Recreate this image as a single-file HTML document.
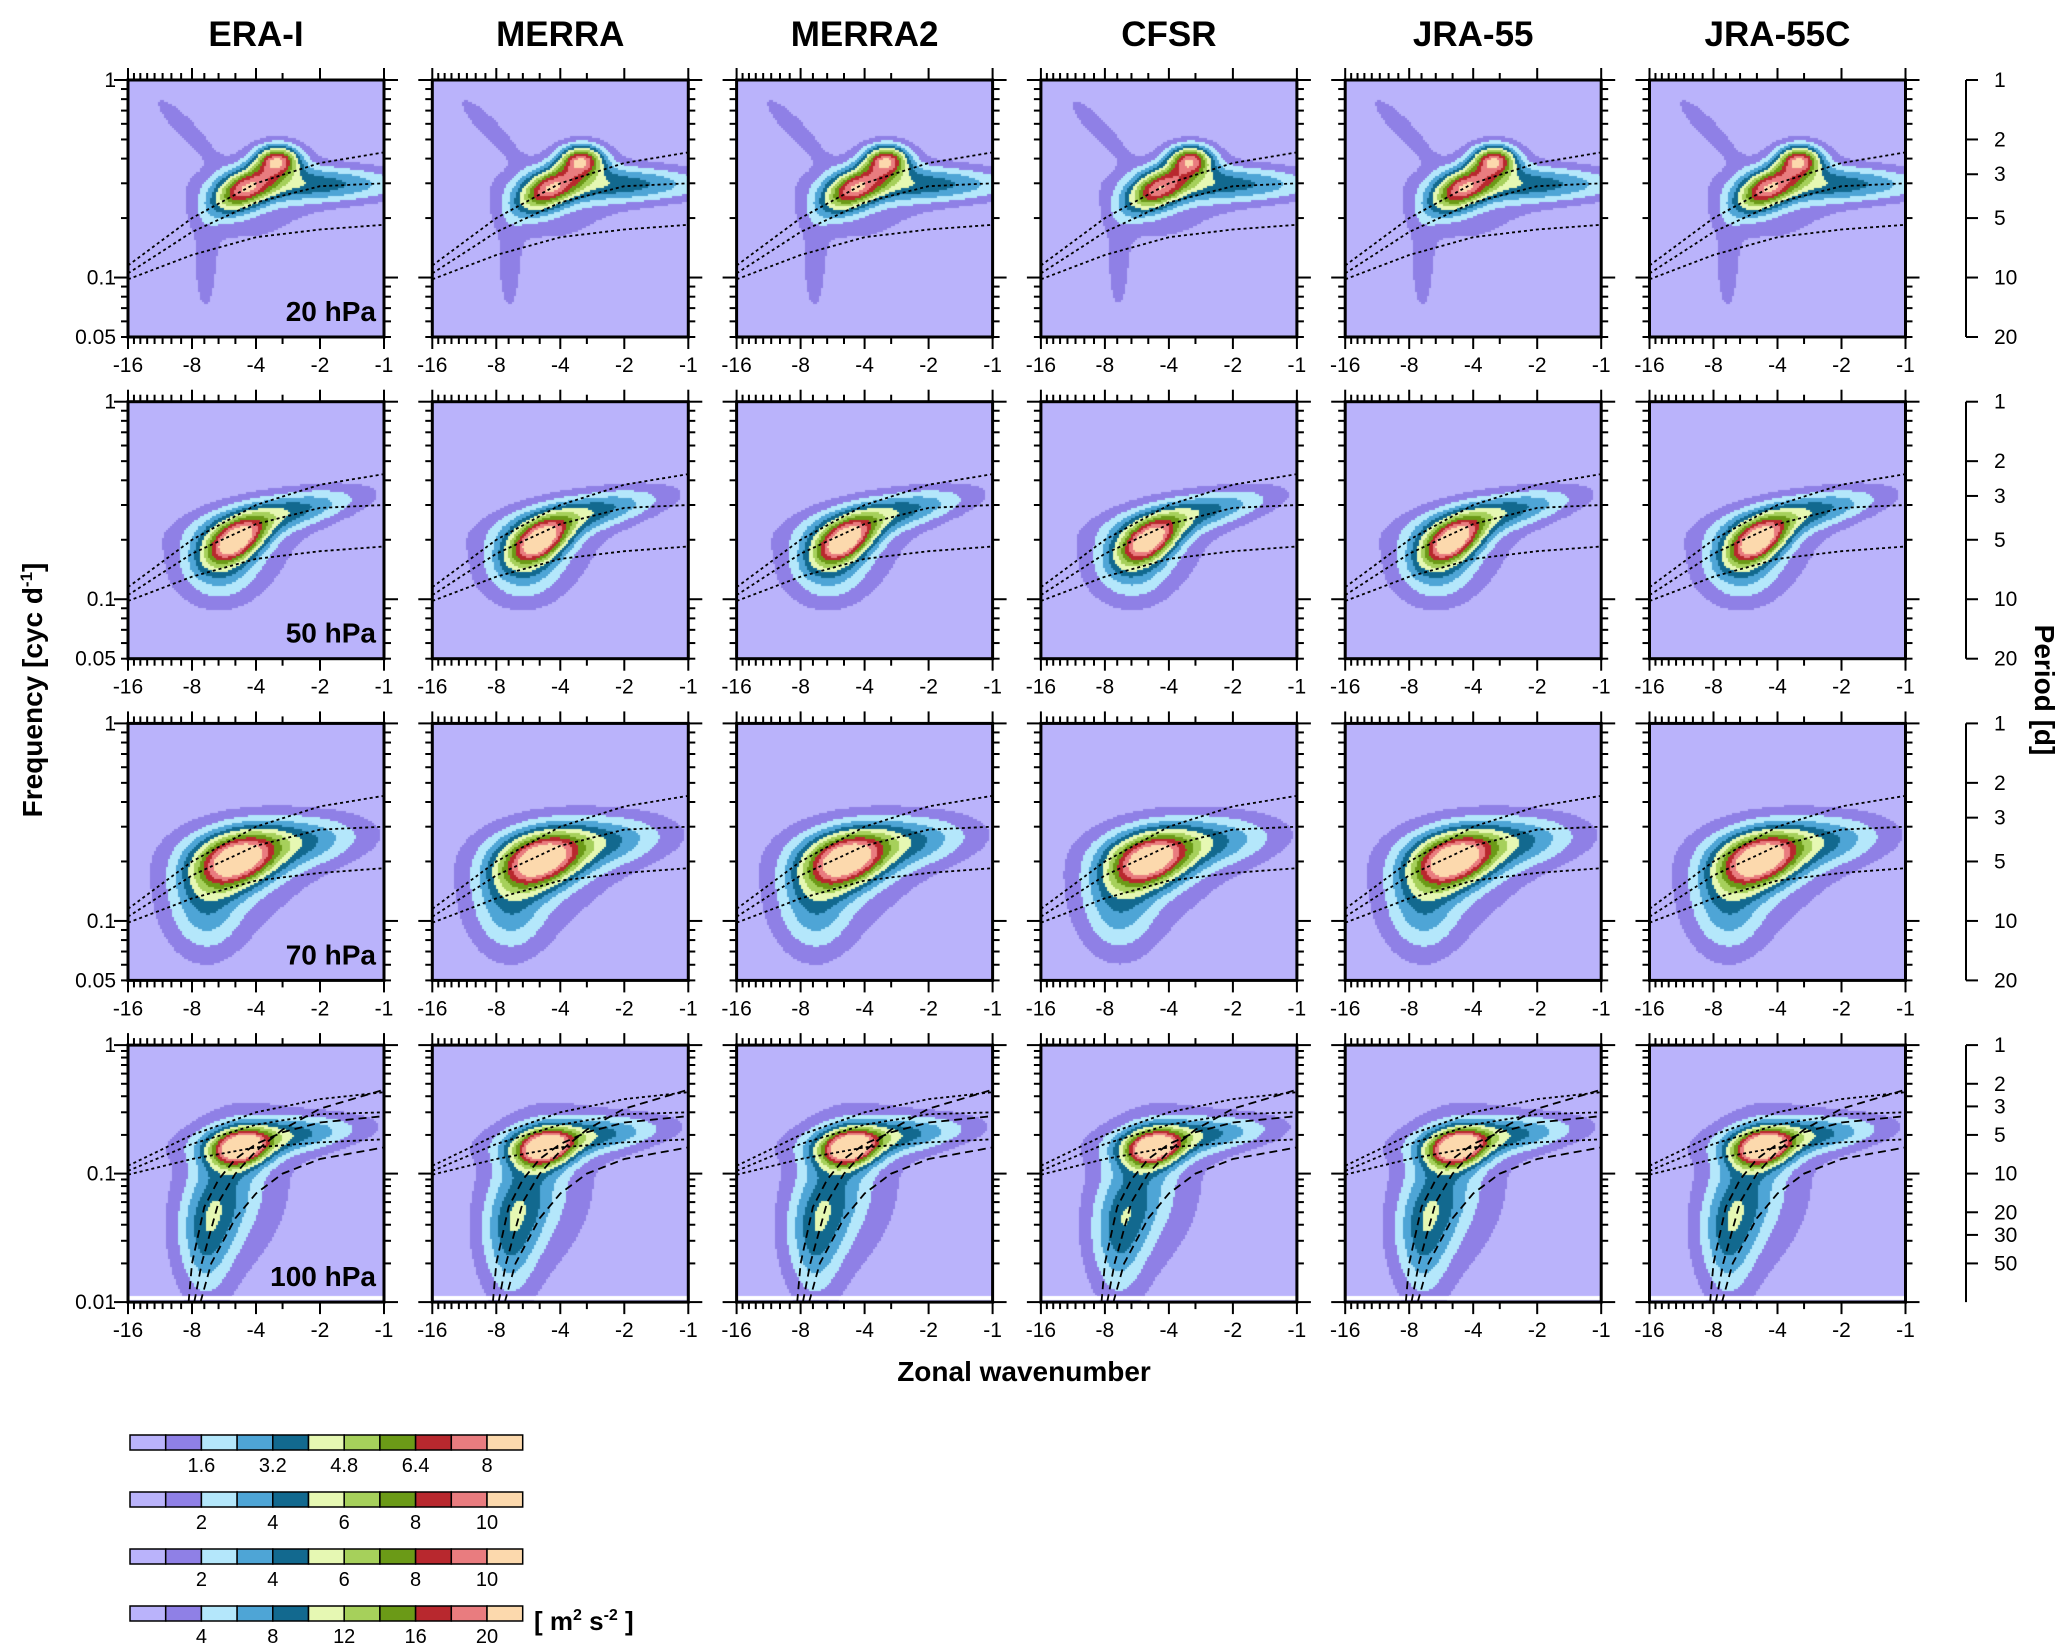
<!DOCTYPE html>
<html><head><meta charset="utf-8">
<style>
html,body{margin:0;padding:0;background:#fff;}
#root{position:relative;width:2067px;height:1650px;overflow:hidden;font-family:"Liberation Sans",sans-serif;}
svg{position:absolute;left:0;top:0;}
canvas{position:absolute;}
</style></head>
<body>
<div id="root">
<svg id="fig" width="2067" height="1650"></svg>
</div>
<script>
// ---- data ----
const datasets = ["ERA-I","MERRA","MERRA2","CFSR","JRA-55","JRA-55C"];
const levels = ["20 hPa","50 hPa","70 hPa","100 hPa"];
const xTicks = [-16,-8,-4,-2,-1];
const yMinByRow = [0.05,0.05,0.05,0.01];
const yTickLabelsByRow = [[1,0.1,0.05],[1,0.1,0.05],[1,0.1,0.05],[1,0.1,0.01]];
const periodTicksByRow = [[1,2,3,5,10,20],[1,2,3,5,10,20],[1,2,3,5,10,20],[1,2,3,5,10,20,30,50]];
const colAmp = [1.0,1.0,1.0,0.97,1.0,1.0];
// blobs per row: wavenumber, frequency, amplitude, widths (axis fraction), angle
const blobK   = [[-3.2,-4.6,-2.0,-9.0,-7.0,-4.0],[-5.0,-3.0,-6.0,-5.0],[-5.0,-3.0,-7.0,-5.0],[-4.8,-3.0,-6.0,-7.0,-5.0]];
const blobF   = [[0.40,0.28,0.30,0.60,0.10,0.25],[0.20,0.28,0.15,0.18],[0.20,0.25,0.12,0.17],[0.16,0.20,0.06,0.025,0.08]];
const blobAmp = [[7.8,7.0,4.0,1.6,1.2,1.5],[8.6,4.0,2.5,1.6],[8.5,4.0,2.8,1.6],[9.0,4.0,2.8,2.0,1.6]];
const blobSu  = [[0.06,0.10,0.25,0.13,0.04,0.20],[0.09,0.22,0.10,0.22],[0.11,0.22,0.10,0.25],[0.08,0.22,0.09,0.07,0.20]];
const blobSw  = [[0.04,0.05,0.05,0.035,0.15,0.15],[0.05,0.05,0.10,0.14],[0.07,0.07,0.14,0.18],[0.05,0.05,0.15,0.16,0.30]];
const blobAng = [[0.0,0.5,0.0,-0.8,0.0,0.3],[0.5,0.2,0.0,0.3],[0.3,0.1,0.0,0.2],[0.2,0.1,-0.3,0.0,-0.2]];
// dispersion curves (frequency at k = -16,-8,-4,-2,-1)
const curveA = [0.115,0.20,0.30,0.38,0.43];
const curveB = [0.105,0.17,0.24,0.29,0.30];
const curveC = [0.098,0.13,0.16,0.175,0.185];
const curveK = [-16,-8,-4,-2,-1];
// long-dashed curves for 100 hPa (k, freq)
const dashK1 = [-8.3,-8.0,-7.0,-6.0,-5.0,-4.0,-3.0,-2.0,-1.0];
const dashF1 = [0.01,0.02,0.055,0.09,0.13,0.17,0.21,0.25,0.28];
const dashK2 = [-7.8,-7.2,-6.0,-5.0,-4.0,-3.0,-2.0,-1.0];
const dashF2 = [0.01,0.02,0.06,0.1,0.15,0.22,0.32,0.45];
const dashK3 = [-7.3,-6.5,-5.0,-4.0,-3.0,-2.0,-1.0];
const dashF3 = [0.01,0.02,0.045,0.07,0.10,0.13,0.16];
const cbColors = ["#bab3fb","#8f80e6","#b4e7fb","#4ea5d6","#12698f","#e6f8b3","#a6d05b","#6b9a17","#b8282e","#e97c7f","#fcd9ad"];
const cbLabels = [["1.6","3.2","4.8","6.4","8"],["2","4","6","8","10"],["2","4","6","8","10"],["4","8","12","16","20"]];

// ---- layout ----
const NS="http://www.w3.org/2000/svg";
const svg=document.getElementById('fig');
const root=document.getElementById('root');
const colL0=128, colP=304.3, PW=256, rowT0=80, rowP=321.7, PH=257;
function mk(tag,attrs,parent){const e=document.createElementNS(NS,tag);for(const k in attrs)e.setAttribute(k,attrs[k]);(parent||svg).appendChild(e);return e;}
function xFrac(k){return (4-Math.log2(Math.abs(k)))/4;}
function yFrac(f,row){const lo=Math.log10(yMinByRow[row]);return (Math.log10(f)-lo)/(0-lo);}

for(let r=0;r<4;r++){
  for(let c=0;c<6;c++){
    const L=colL0+c*colP, T=rowT0+r*rowP;
    const g=mk('g',{});
    
    
    const cv=document.createElement('canvas');
    cv.width=PW;cv.height=PH;cv.style.left=L+'px';cv.style.top=T+'px';
    
    
    root.insertBefore(cv,svg);
    const ctx=cv.getContext('2d');
    const st=2;
    for(let py=0;py<PH;py+=st){
      for(let px=0;px<PW;px+=st){
        const u=px/PW, w=1-py/PH;
        let v=0;
        for(let b=0;b<blobK[r].length;b++){
          const du=u-xFrac(blobK[r][b]), dw=w-yFrac(blobF[r][b],r);
          const a=blobAng[r][b], ca=Math.cos(a), sa=Math.sin(a);
          const p=du*ca+dw*sa, q=-du*sa+dw*ca;
          v+=blobAmp[r][b]*colAmp[c]*Math.exp(-0.5*(p*p/(blobSu[r][b]**2)+q*q/(blobSw[r][b]**2)));
        }
        const li=Math.max(0,Math.min(10,Math.floor(v)));
        ctx.fillStyle=cbColors[li];
        ctx.fillRect(px,py,st,st);
      }
    }
    if(r===3){ctx.fillStyle='#fff';ctx.fillRect(0,PH-6,PW,4);}
    const clip='clip'+r+'_'+c;
    const cp=mk('clipPath',{id:clip},g);mk('rect',{x:L,y:T,width:PW,height:PH},cp);
    function path(ks,fs,dash,name){
      let d='';
      for(let i=0;i<ks.length;i++){
        const x=L+xFrac(ks[i])*PW, y=T+(1-yFrac(fs[i],r))*PH;
        d+=(i?'L':'M')+x.toFixed(1)+' '+y.toFixed(1);
      }
      const p=mk('path',{d:d,fill:'none',stroke:'#000','stroke-width':1.8,'stroke-dasharray':dash,'clip-path':'url(#'+clip+')'},g);
      
      
    }
    path(curveK,curveA,'3 3','dispersion-curve-a');
    path(curveK,curveB,'3 3','dispersion-curve-b');
    path(curveK,curveC,'3 3','dispersion-curve-c');
    if(r===3){
      path(dashK1,dashF1,'8 5','dispersion-curve-d');
      path(dashK2,dashF2,'8 5','dispersion-curve-e');
      path(dashK3,dashF3,'8 5','dispersion-curve-f');
    }
    const fr=mk('rect',{x:L,y:T,width:PW,height:PH,fill:'none',stroke:'#000','stroke-width':3},g);
    
    
    for(let k=16;k>=1;k--){
      const major=xTicks.includes(-k);
      if(!major && ![15,14,13,12,11,10,9,7,6,5,3].includes(k)) continue;
      const x=L+xFrac(-k)*PW, len=major?12:7;
      mk('line',{x1:x,y1:T,x2:x,y2:T-len,stroke:'#000','stroke-width':2},g);
      mk('line',{x1:x,y1:T+PH,x2:x,y2:T+PH+len,stroke:'#000','stroke-width':2},g);
    }
    xTicks.forEach(k=>{
      const t=mk('text',{x:L+xFrac(k)*PW,y:T+PH+35,'text-anchor':'middle','font-size':21,fill:'#000'},g);
      t.textContent=k;
      
      
    });
    const ymin=yMinByRow[r];
    for(let dec=Math.floor(Math.log10(ymin));dec<=0;dec++){
      for(let m=1;m<10;m++){
        const f=m*Math.pow(10,dec);
        if(f<ymin-1e-9||f>1+1e-9) continue;
        const y=T+(1-yFrac(f,r))*PH, len=(m===1)?14:7;
        mk('line',{x1:L,y1:y,x2:L-len,y2:y,stroke:'#000','stroke-width':2},g);
        mk('line',{x1:L+PW,y1:y,x2:L+PW+len,y2:y,stroke:'#000','stroke-width':2},g);
      }
    }
    if(c===0){
      yTickLabelsByRow[r].forEach(f=>{
        const t=mk('text',{x:L-12,y:T+(1-yFrac(f,r))*PH+7,'text-anchor':'end','font-size':21,fill:'#000'},g);
        t.textContent=f;
        
        
      });
      const t=mk('text',{x:L+PW-8,y:T+PH-16,'text-anchor':'end','font-size':28,'font-weight':'bold',fill:'#000'},g);
      t.textContent=levels[r];
      
      
    }
    if(r===0){
      const t=mk('text',{x:L+PW/2,y:46,'text-anchor':'middle','font-size':35,'font-weight':'bold',fill:'#000'},g);
      t.textContent=datasets[c];
      
      
    }
  }
  const T=rowT0+r*rowP, PX=1966;
  const pg=mk('g',{});
  
  
  mk('line',{x1:PX,y1:T,x2:PX,y2:T+PH,stroke:'#000','stroke-width':2},pg);
  periodTicksByRow[r].forEach(p=>{
    const y=T+(1-yFrac(1/p,r))*PH;
    mk('line',{x1:PX,y1:y,x2:PX+12,y2:y,stroke:'#000','stroke-width':2},pg);
    const t=mk('text',{x:PX+28,y:y+7,'text-anchor':'start','font-size':21,fill:'#000'},pg);
    t.textContent=p;
    
    
  });
}
let t=mk('text',{x:0,y:0,transform:'translate(42,690) rotate(-90)','text-anchor':'middle','font-size':28,'font-weight':'bold'});
t.innerHTML='Frequency [cyc d<tspan dy="-10" font-size="17">-1</tspan><tspan dy="10">]</tspan>';


t=mk('text',{x:0,y:0,transform:'translate(2035,690) rotate(90)','text-anchor':'middle','font-size':28,'font-weight':'bold'});
t.textContent='Period [d]';


t=mk('text',{x:1024,y:1381,'text-anchor':'middle','font-size':28,'font-weight':'bold'});
t.textContent='Zonal wavenumber';


const cbTop=[1435,1492,1549,1606], cbL=130, cbW=35.7, cbH=15;
for(let b=0;b<4;b++){
  const g=mk('g',{});
  
  
  for(let i=0;i<11;i++){
    mk('rect',{x:cbL+i*cbW,y:cbTop[b],width:cbW,height:cbH,fill:cbColors[i],stroke:'#000','stroke-width':1.5},g);
  }
  cbLabels[b].forEach((s,i)=>{
    const tt=mk('text',{x:cbL+(2+2*i)*cbW,y:cbTop[b]+cbH+22,'text-anchor':'middle','font-size':20},g);
    tt.textContent=s;
    
    
  });
}
t=mk('text',{x:534,y:1630,'font-size':26,'font-weight':'bold'});
t.innerHTML='[ m<tspan dy="-10" font-size="16">2</tspan><tspan dy="10"> s</tspan><tspan dy="-10" font-size="16">-2</tspan><tspan dy="10"> ]</tspan>';


</script>
</body></html>
